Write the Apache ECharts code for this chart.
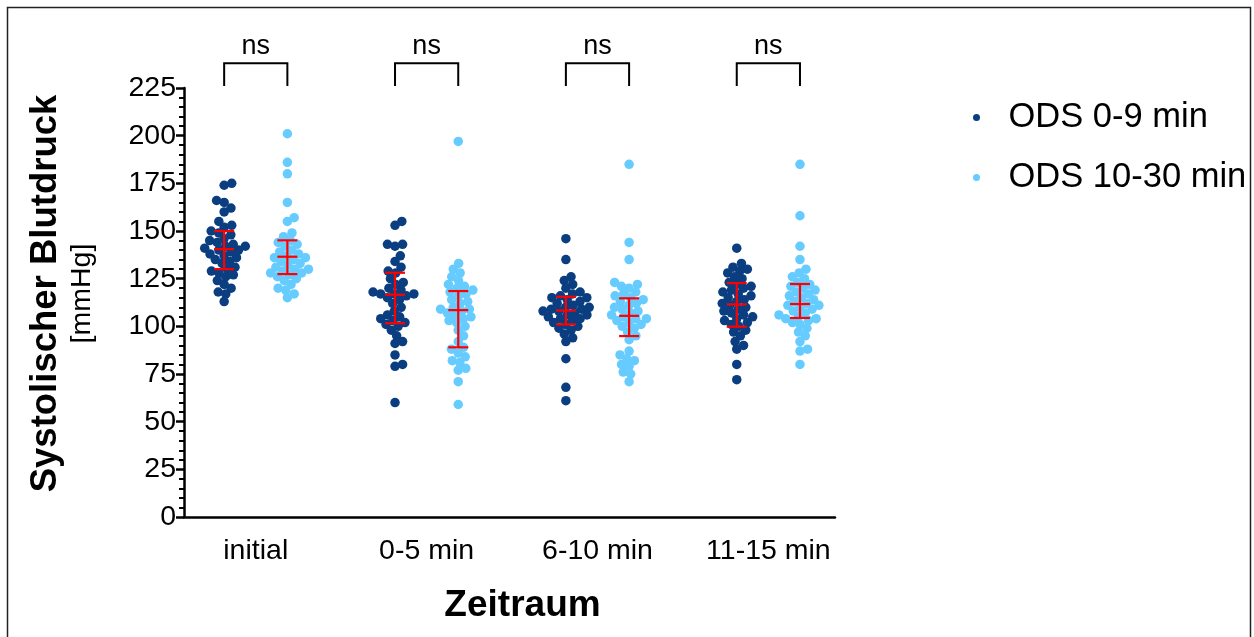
<!DOCTYPE html>
<html>
<head>
<meta charset="utf-8">
<script src="https://cdn.jsdelivr.net/npm/echarts@6/dist/echarts.min.js"></script>
<style>
    html, body { margin: 0; padding: 0; background: #fff; }
    #chart { width: 1254px; height: 637px; }
</style>
</head>
<body>
<div id="chart"></div>
<script>
const groups = ['initial', '0-5 min', '6-10 min', '11-15 min']
const seriesNames = ['ODS 0-9 min', 'ODS 10-30 min']

// Systolischer Blutdruck (mmHg)
const early = [
    [175, 174, 166, 165, 162, 160, 155, 153, 152, 150, 149, 148, 146, 145, 144, 143, 142, 142, 141, 140,
        140, 139, 138, 137, 136, 135, 134, 133, 131, 130, 129, 128, 127, 126, 124, 122, 120, 118, 117, 113],
    [155, 153, 143, 143, 142, 137, 134, 131, 129, 128, 125, 123, 122, 120, 119, 118, 117, 117, 117, 116,
        115, 114, 112, 110, 108, 106, 105, 104, 103, 102, 101, 100, 98, 95, 92, 91, 85, 80, 79, 60],
    [146, 135, 126, 124, 122, 120, 118, 117, 116, 115, 115, 114, 113, 112, 111, 110, 110, 109, 109, 108,
        108, 107, 106, 106, 105, 104, 104, 103, 102, 101, 100, 99, 98, 96, 94, 92, 83, 68, 61],
    [141, 133, 131, 130, 129, 128, 126, 125, 123, 122, 121, 120, 119, 118, 117, 116, 115, 114, 113, 112,
        111, 110, 109, 108, 107, 106, 105, 104, 103, 102, 101, 100, 98, 97, 95, 92, 90, 88, 80, 72],
]
const late = [
    [201, 186, 180, 165, 157, 155, 149, 147, 145, 144, 143, 142, 140, 139, 138, 137, 136, 136, 135, 134,
        133, 132, 131, 130, 130, 129, 128, 128, 127, 126, 125, 124, 122, 120, 119, 117, 115],
    [197, 133, 130, 128, 126, 124, 122, 121, 120, 119, 118, 117, 116, 114, 113, 112, 110, 109, 109, 108,
        107, 106, 105, 104, 103, 102, 100, 98, 95, 92, 89, 88, 86, 84, 82, 81, 78, 77, 71, 59],
    [185, 144, 135, 123, 122, 121, 120, 118, 117, 116, 115, 114, 113, 112, 111, 110, 109, 108, 107, 106,
        105, 104, 104, 103, 102, 101, 100, 99, 97, 95, 93, 87, 85, 83, 82, 80, 79, 76, 75, 71],
    [185, 158, 142, 135, 130, 128, 126, 125, 123, 122, 121, 120, 119, 118, 117, 116, 115, 114, 113, 112,
        111, 111, 110, 109, 108, 107, 106, 105, 104, 104, 103, 102, 101, 99, 97, 95, 92, 88, 87, 80],
]

// median with interquartile range (red bars)
const earlyMedian = [140.5, 116.6, 108.3, 111.5]
const earlyQ1 = [130, 101.6, 101, 99.8]
const earlyQ3 = [150, 128.1, 115.5, 122.7]
const lateMedian = [136.5, 108.5, 105.5, 111.7]
const lateQ1 = [127.4, 89, 94.9, 104.4]
const lateQ3 = [145.1, 118.5, 114.7, 122.2]

const yTicks = [0, 25, 50, 75, 100, 125, 150, 175, 200, 225]

const darkBlue = '#0b3e80'
const lightBlue = '#66ccff'
const font = 'Liberation Sans, Arial, sans-serif'

// plot area in px
const gridLeft = 184, gridTop = 88, gridW = 651, gridH = 429
const xMin = 0.58, xMax = 4.39
const side = 0.185
const pxPerY = gridH / yTicks[yTicks.length - 1]
const pxPerX = gridW / (xMax - xMin)

// simple beeswarm: push dots sideways until they do not overlap
function swarm(values, dotDist) {
    const order = values.map((v, i) => i).sort((a, b) => values[a] - values[b])
    const placed = []
    const offs = new Array(values.length)
    order.forEach(i => {
        const y = values[i] * pxPerY
        const cands = [0]
        placed.forEach(p => {
            const dy = Math.abs(p.y - y)
            if (dy < dotDist) {
                const dx = Math.sqrt(dotDist * dotDist - dy * dy)
                cands.push(p.x + dx, p.x - dx)
            }
        })
        cands.sort((a, b) => Math.abs(a) - Math.abs(b))
        let x = 0
        for (const c of cands) {
            if (placed.every(p => (p.x - c) ** 2 + (p.y - y) ** 2 >= dotDist * dotDist - 0.01)) {
                x = c
                break
            }
        }
        placed.push({ x, y })
        offs[i] = x / pxPerX
    })
    return offs
}

function swarmData(sets, shift) {
    const out = []
    sets.forEach((vals, g) => {
        const offs = swarm(vals, 7.8)
        vals.forEach((v, i) => out.push([g + 1 + shift + offs[i], v]))
    })
    return out
}

function errorData(med, q1, q3, shift) {
    return med.map((m, g) => [g + 1 + shift, m, q1[g], q3[g]])
}

function renderError(params, api) {
    const x = api.value(0)
    const mid = api.coord([x, api.value(1)])
    const lo = api.coord([x, api.value(2)])
    const hi = api.coord([x, api.value(3)])
    const half = 10
    const style = { stroke: '#ff0000', lineWidth: 2.2 }
    return {
        type: 'group',
        children: [
            { type: 'line', shape: { x1: mid[0], y1: hi[1], x2: mid[0], y2: lo[1] }, style },
            { type: 'line', shape: { x1: mid[0] - half, y1: hi[1], x2: mid[0] + half, y2: hi[1] }, style },
            { type: 'line', shape: { x1: mid[0] - half, y1: lo[1], x2: mid[0] + half, y2: lo[1] }, style },
            { type: 'line', shape: { x1: mid[0] - half, y1: mid[1], x2: mid[0] + half, y2: mid[1] }, style },
        ],
    }
}

function renderBracket(params, api) {
    const g = api.value(0)
    const a = api.coord([g - side, 226])
    const b = api.coord([g - side, 238])
    const c = api.coord([g + side, 238])
    const d = api.coord([g + side, 226])
    return {
        type: 'group',
        children: [
            {
                type: 'polyline',
                shape: { points: [a, b, c, d] },
                style: { stroke: '#000', lineWidth: 2, fill: null },
            },
            {
                type: 'text',
                x: (b[0] + c[0]) / 2,
                y: b[1] - 17,
                style: {
                    text: 'ns', fill: '#000', fontSize: 27, fontFamily: font,
                    align: 'center', verticalAlign: 'middle',
                },
            },
        ],
    }
}

const option = {
    animation: false,
    backgroundColor: '#fff',
    textStyle: { fontFamily: font },
    graphic: [
        {
            type: 'rect',
            shape: { x: 7.5, y: 7.5, width: 1243, height: 640 },
            style: { fill: null, stroke: '#222', lineWidth: 1.5 },
        },
    ],
    legend: {
        data: seriesNames,
        orient: 'vertical',
        left: 968,
        top: 95,
        itemWidth: 54,
        itemHeight: 7,
        itemGap: 25,
        icon: 'circle',
        textStyle: { fontSize: 34.5, color: '#000', fontFamily: font },
    },
    grid: {
        left: gridLeft,
        top: gridTop,
        width: gridW,
        height: gridH,
    },
    xAxis: {
        type: 'value',
        min: xMin,
        max: xMax,
        name: 'Zeitraum',
        nameLocation: 'middle',
        nameGap: 70,
        nameTextStyle: {
            fontSize: 37, fontWeight: 'bold', color: '#000', fontFamily: font,
            padding: [0, 0, 0, 26],
        },
        axisLine: { lineStyle: { color: '#000', width: 2.5 } },
        axisTick: { show: false },
        splitLine: { show: false },
        axisLabel: {
            customValues: [1, 2, 3, 4],
            formatter: v => groups[Math.round(v) - 1],
            fontSize: 28.5,
            color: '#000',
            margin: 20,
        },
    },
    yAxis: {
        type: 'value',
        min: yTicks[0],
        max: yTicks[yTicks.length - 1],
        interval: 25,
        name: '{b|Systolischer Blutdruck}\n{r|[mmHg]}',
        nameLocation: 'middle',
        nameRotate: 90,
        nameGap: 86,
        nameTextStyle: {
            color: '#000',
            padding: [0, 0, 0, 18],
            rich: {
                b: { fontSize: 36.5, fontWeight: 'bold', lineHeight: 40, fontFamily: font, align: 'center' },
                r: { fontSize: 28.5, lineHeight: 32, fontFamily: font, align: 'center' },
            },
        },
        axisLine: { show: true, lineStyle: { color: '#000', width: 2.5 } },
        axisTick: { length: 8, lineStyle: { color: '#000', width: 2.5 } },
        minorTick: { show: true, splitNumber: 5, length: 5, lineStyle: { color: '#000', width: 2 } },
        splitLine: { show: false },
        axisLabel: { fontSize: 28.5, color: '#000', margin: 8 },
    },
    series: [
        {
            name: seriesNames[0],
            type: 'scatter',
            symbolSize: 9.5,
            itemStyle: { color: darkBlue, opacity: 1 },
            data: swarmData(early, -side),
            z: 2,
        },
        {
            name: seriesNames[1],
            type: 'scatter',
            symbolSize: 9.5,
            itemStyle: { color: lightBlue, opacity: 1 },
            data: swarmData(late, side),
            z: 2,
        },
        {
            type: 'custom',
            renderItem: renderError,
            data: errorData(earlyMedian, earlyQ1, earlyQ3, -side),
            encode: { x: 0, y: [1, 2, 3] },
            z: 5,
        },
        {
            type: 'custom',
            renderItem: renderError,
            data: errorData(lateMedian, lateQ1, lateQ3, side),
            encode: { x: 0, y: [1, 2, 3] },
            z: 5,
        },
        {
            type: 'custom',
            renderItem: renderBracket,
            clip: false,
            data: groups.map((g, i) => [i + 1]),
            encode: { x: 0 },
            silent: true,
        },
    ],
}

const chart = echarts.init(document.getElementById('chart'))
chart.setOption(option)
</script>
</body>
</html>
